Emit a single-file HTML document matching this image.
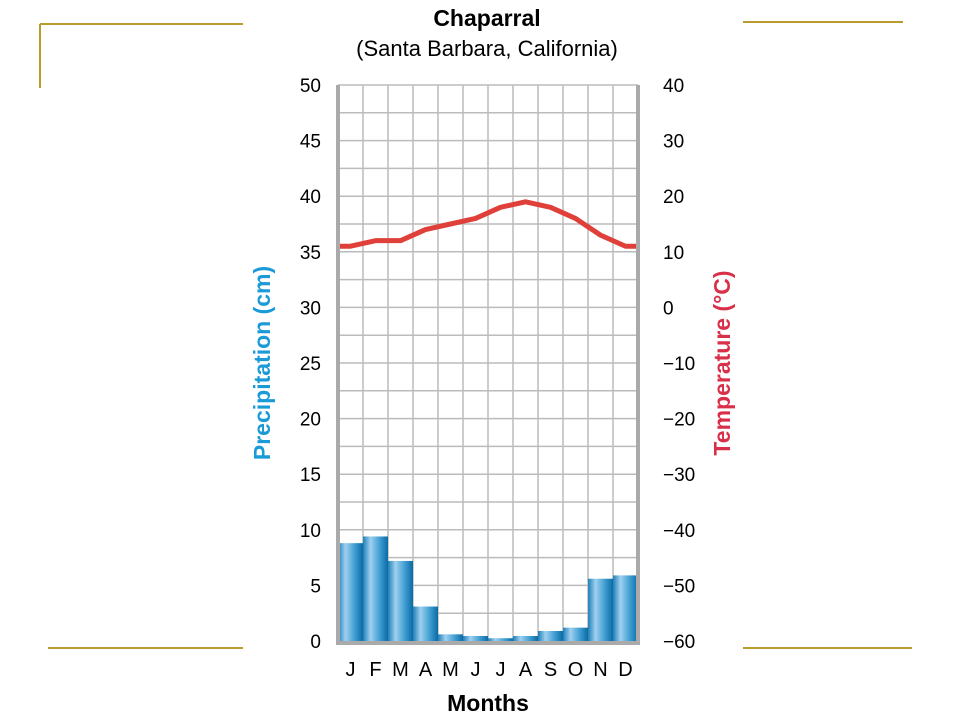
<!DOCTYPE html>
<html><head><meta charset="utf-8"><style>
body{margin:0;background:#fff;}
svg{display:block;font-family:"Liberation Sans",sans-serif;}
</style></head><body>
<svg id="chart" width="960" height="720" viewBox="0 0 960 720">
<defs>
<linearGradient id="barg" x1="0" x2="1" y1="0" y2="0">
<stop offset="0" stop-color="#1f7fb8"/><stop offset="0.3" stop-color="#9fd0ef"/><stop offset="0.7" stop-color="#3a9ad0"/><stop offset="1" stop-color="#0d6aa3"/>
</linearGradient>
</defs>
<g stroke="#b89c2c" stroke-width="2">
<line x1="40" y1="24" x2="243" y2="24"/><line x1="40" y1="24" x2="40" y2="88"/>
<line x1="743" y1="22" x2="903" y2="22"/>
<line x1="48" y1="648" x2="243" y2="648"/><line x1="743" y1="648" x2="912" y2="648"/>
</g>
<text x="487" y="26" text-anchor="middle" font-size="23" font-weight="bold">Chaparral</text>
<text x="487" y="56" text-anchor="middle" font-size="22">(Santa Barbara, California)</text>
<g id="grid"></g>
<g id="bars"></g>
<g id="line"></g>
<g id="axes"></g>
<text transform="translate(270,363) rotate(-90)" text-anchor="middle" font-size="23" font-weight="bold" fill="#1a9ad6">Precipitation (cm)</text>
<text transform="translate(730,363) rotate(-90)" text-anchor="middle" font-size="23" font-weight="bold" fill="#d9304a">Temperature (°C)</text>
<text x="488" y="711" text-anchor="middle" font-size="23" font-weight="bold">Months</text>
</svg>
<script>
const months=["J","F","M","A","M","J","J","A","S","O","N","D"];
const precip=[8.8,9.4,7.2,3.1,0.6,0.45,0.25,0.45,0.9,1.2,5.6,5.9];
const temps=[11,12,12,14,15,16,18,19,18,16,13,11];
const precipTicks=[0,5,10,15,20,25,30,35,40,45,50];
const tempTicks=[-60,-50,-40,-30,-20,-10,0,10,20,30,40];
const X0=338,X1=638,Y0=641,Y1=85;
const bw=(X1-X0)/months.length;
const yP=v=>Y0-(v/50)*(Y0-Y1);
const yT=v=>Y0-((v+60)/100)*(Y0-Y1);
const xC=i=>X0+bw*(i+0.5);
const NS="http://www.w3.org/2000/svg";
function mk(tag,attrs,parent){const e=document.createElementNS(NS,tag);for(const k in attrs)e.setAttribute(k,attrs[k]);parent.appendChild(e);return e;}
const grid=document.getElementById('grid');
for(let v=0;v<=50;v+=2.5){const l=mk('line',{x1:X0,x2:X1,y1:yP(v),y2:yP(v),stroke:'#bbb','stroke-width':1.5},grid);

}
for(let i=1;i<months.length;i++){const l=mk('line',{x1:X0+bw*i,x2:X0+bw*i,y1:Y1,y2:Y0,stroke:'#bbb','stroke-width':1.5},grid);

}
const bars=document.getElementById('bars');
precip.forEach((v,i)=>{const r=mk('rect',{x:X0+bw*i,y:yP(v),width:bw,height:Y0-yP(v),fill:'url(#barg)'},bars);

});
const line=document.getElementById('line');
let pts=[[X0+2,yT(temps[0])]];temps.forEach((t,i)=>pts.push([xC(i),yT(t)]));pts.push([X1-2,yT(temps[temps.length-1])]);
const pl=mk('polyline',{points:pts.map(p=>p.join(',')).join(' '),fill:'none',stroke:'#e0403a','stroke-width':5,'stroke-linejoin':'round','stroke-linecap':'round'},line);


const axes=document.getElementById('axes');
const fr=mk('path',{d:`M${X0},${Y1} V${Y0+2} H${X1} V${Y1}`,fill:'none',stroke:'#aaa','stroke-width':4},axes);


precipTicks.forEach(v=>{const t=mk('text',{x:321,y:yP(v)+7,'text-anchor':'end','font-size':19},axes);t.textContent=v;

});
tempTicks.forEach(v=>{const t=mk('text',{x:663,y:yT(v)+7,'text-anchor':'start','font-size':19},axes);t.textContent=v<0?'\u2212'+(-v):v;

});
months.forEach((m,i)=>{const t=mk('text',{x:xC(i),y:676,'text-anchor':'middle','font-size':20},axes);t.textContent=m;

});
</script>
</body></html>
